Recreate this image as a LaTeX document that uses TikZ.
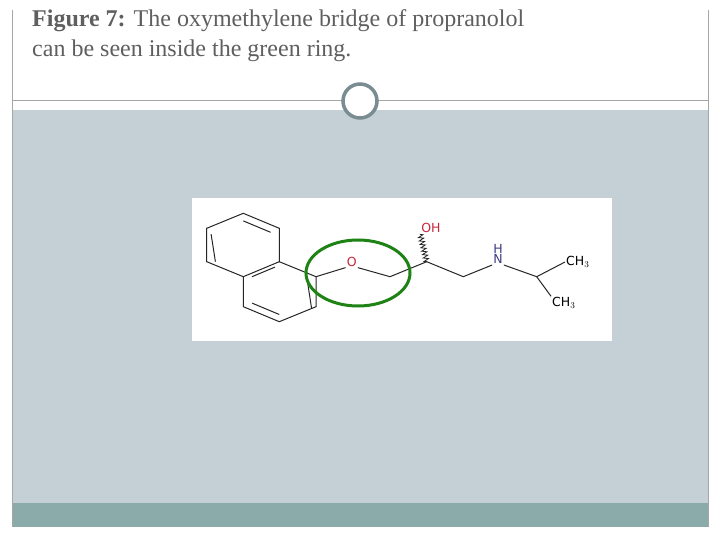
\documentclass[tikz,border=0pt]{standalone}
\usetikzlibrary{calc,decorations.pathmorphing}
\usepackage{fontspec}
\setmainfont{Liberation Serif}
\newfontfamily\molfont{DejaVu Sans}
\begin{document}
\begin{tikzpicture}[x=1pt,y=-1pt,
  bond/.style={line width=1pt,black!85},
  atom/.style={font=\molfont\fontsize{12.5}{12.5}\selectfont,inner sep=1pt}]
\useasboundingbox (0,0) rectangle (720,540);
\fill[white] (0,0) rectangle (720,540);
\fill[fill={rgb,255:red,197;green,208;blue,214}] (12,110) rectangle (708,527);
\fill[fill={rgb,255:red,139;green,170;blue,170}] (12,503) rectangle (708,527);
\draw[gray!70] (12,10) -- (12,527) (708,10) -- (708,527) (12,100) -- (708,100);
\node[circle,draw={rgb,255:red,120;green,140;blue,145},line width=3.5pt,fill=white,minimum size=34pt] (c) at (360,101) {};
\node[anchor=north west,align=left,text={rgb,255:red,95;green,95;blue,95},font=\fontsize{24}{30}\selectfont,inner sep=0pt] (t) at (32,9)
 {\textbf{Figure 7:} The oxymethylene bridge of propranolol\\can be seen inside the green ring.};
\fill[white] (192,198) rectangle (612,341);
% naphthalene
\coordinate (a1) at (243.3,213.3); \coordinate (a2) at (279.3,228.3);
\coordinate (a3) at (279.3,261.7); \coordinate (a4) at (243.3,276.7);
\coordinate (a5) at (206.7,261.7); \coordinate (a6) at (206.7,228.3);
\coordinate (b1) at (316,276.7); \coordinate (b2) at (316,306.7);
\coordinate (b3) at (279.3,321.7); \coordinate (b4) at (243.3,306.7);
\draw[bond] (a1)--(a2)--(a3)--(a4)--(a5)--(a6)--cycle;
\draw[bond] (a3)--(b1)--(b2)--(b3)--(b4)--(a4);
\draw[bond] ($(a6)!0.12!(a4)$) -- ($(a5)!0.12!(a3)$);
\draw[bond] ($(a1)!0.12!(a4)$) -- ($(a2)!0.12!(a5)$);
\draw[bond] ($(a3)!0.12!(b4)$) -- ($(a4)!0.12!(b1)$);
\draw[bond] ($(b1)!0.12!(b4)$) -- ($(b2)!0.12!(b3)$);
\draw[bond] ($(b3)!0.12!(a3)$) -- ($(b4)!0.12!(b1)$);
% chain
\node[atom,text={rgb,255:red,200;green,40;blue,60}] (O) at (351.7,261.7) {O};
\coordinate (c1) at (390,276.7); \coordinate (c2) at (426.7,261.7);
\coordinate (c3) at (463.3,276.7); \coordinate (c4) at (536.7,276.7);
\node[atom,text={rgb,255:red,200;green,40;blue,60}] (OH) at (431,228) {OH};
\node[atom,text={rgb,255:red,60;green,60;blue,130},align=center] (N) at (498,254) {H\\[-2pt]N};
\node[atom,anchor=west] (m1) at (565,262) {CH$_3$};
\node[atom,anchor=west] (m2) at (551,303) {CH$_3$};
\draw[bond] (b1) -- (O.south west);
\draw[bond] (O.south east) -- (c1) -- (c2) -- (c3) -- (N.south west);
\draw[bond] (N.south east) -- (c4) -- (m1.west);
\draw[bond] (c4) -- (m2.north west);
\draw[black!85,line width=0.8pt,decorate,decoration={zigzag,segment length=3.5pt,amplitude=2.5pt}] (c2) -- (OH.south west);
% green ring
\draw[line width=3pt,draw={rgb,255:red,30;green,130;blue,20}] (358,273) ellipse (52pt and 33pt);
\end{tikzpicture}
\end{document}
